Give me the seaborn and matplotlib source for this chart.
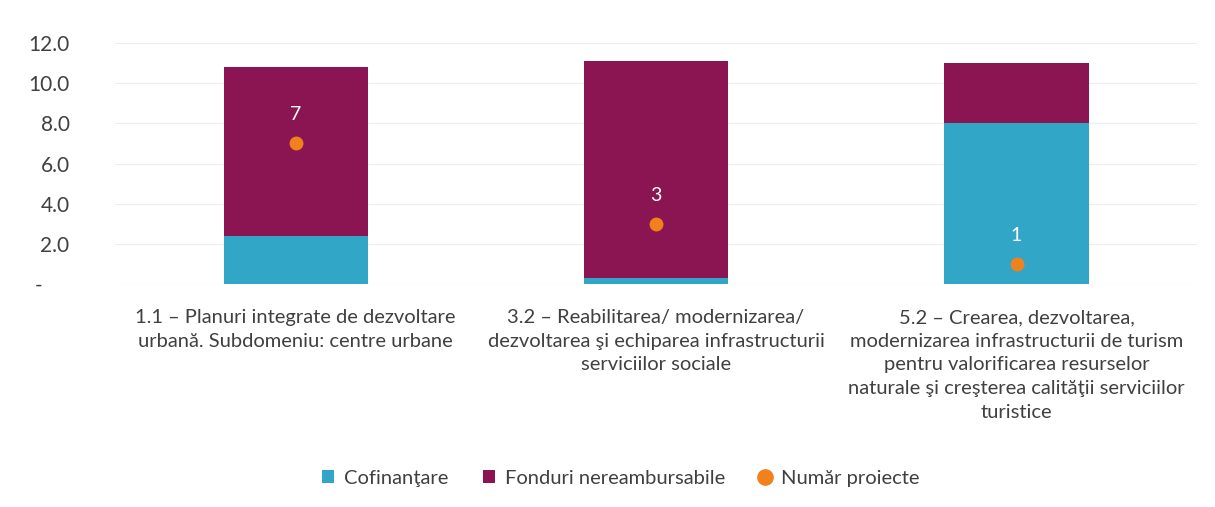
import matplotlib
matplotlib.use("Agg")
import matplotlib.pyplot as plt
from matplotlib.patches import Patch
from matplotlib.lines import Line2D
import seaborn as sns
import pandas as pd

categories = [
    "1.1 – Planuri integrate de dezvoltare\nurbană. Subdomeniu: centre urbane",
    "3.2 – Reabilitarea/ modernizarea/\ndezvoltarea şi echiparea infrastructurii\nserviciilor sociale",
    "5.2 – Crearea, dezvoltarea,\nmodernizarea infrastructurii de turism\npentru valorificarea resurselor\nnaturale şi creşterea calităţii serviciilor\nturistice",
]
cofinantare = [2.4, 0.3, 8.0]
fonduri = [8.4, 10.8, 3.0]
numar_proiecte = [7, 3, 1]
yticks = [0, 2, 4, 6, 8, 10, 12]
ytick_labels = ["-     ", "2.0", "4.0", "6.0", "8.0", "10.0", "12.0"]
legend_labels = ["Cofinanţare", "Fonduri nereambursabile", "Număr proiecte"]

c_cyan = "#31a6c7"
c_purple = "#8a1552"
c_orange = "#f0821e"
c_text = "#404040"

sns.set_theme(style="white")
plt.rcParams["font.family"] = ["Lato", "DejaVu Sans"]

df = pd.DataFrame({"cat": categories, "cof": cofinantare, "fon": fonduri, "nr": numar_proiecte})

fig = plt.figure(figsize=(12.15, 5.07), dpi=100)
ax = fig.add_axes([0.095, 0.44, 0.89, 0.475])

sns.barplot(data=df, x="cat", y="cof", color=c_cyan, width=0.4, ax=ax, saturation=1,
            linewidth=0)
sns.barplot(data=df, x="cat", y="fon", color=c_purple, width=0.4, ax=ax, saturation=1,
            linewidth=0, bottom=df["cof"].values)
sns.stripplot(data=df, x="cat", y="nr", color=c_orange, jitter=False, size=10, ax=ax,
              zorder=5, linewidth=0)

for i, n in enumerate(numar_proiecte):
    ax.text(i, n + 1.0, str(n), ha="center", va="bottom", color="white", fontsize=14)

ax.set_ylim(0, 12)
ax.set_xlim(-0.5, 2.5)
ax.set_yticks(yticks)
ax.set_yticklabels(ytick_labels)
ax.set_xlabel("")
ax.set_ylabel("")
ax.yaxis.grid(True, color="#ececec", linewidth=0.8)
ax.set_axisbelow(True)
for s in ax.spines.values():
    s.set_visible(False)
ax.tick_params(axis="y", labelsize=15, colors=c_text, pad=33, length=0)
ax.tick_params(axis="x", labelsize=14.5, colors=c_text, pad=18, length=0)
for lbl in ax.get_yticklabels():
    lbl.set_horizontalalignment("right")
for lbl in ax.get_xticklabels():
    lbl.set_linespacing(1.48)

handles = [
    Patch(facecolor=c_cyan, edgecolor="none"),
    Patch(facecolor=c_purple, edgecolor="none"),
    Line2D([], [], marker="o", linestyle="none", color=c_orange, markersize=11),
]
leg = fig.legend(handles, legend_labels, loc="center", bbox_to_anchor=(0.511, 0.057),
                 ncol=3, frameon=False, fontsize=14.5, handlelength=0.6, handleheight=0.6,
                 handletextpad=0.5, columnspacing=1.7)
for t in leg.get_texts():
    t.set_color(c_text)

fig.savefig("out.png", dpi=100, facecolor="white")
